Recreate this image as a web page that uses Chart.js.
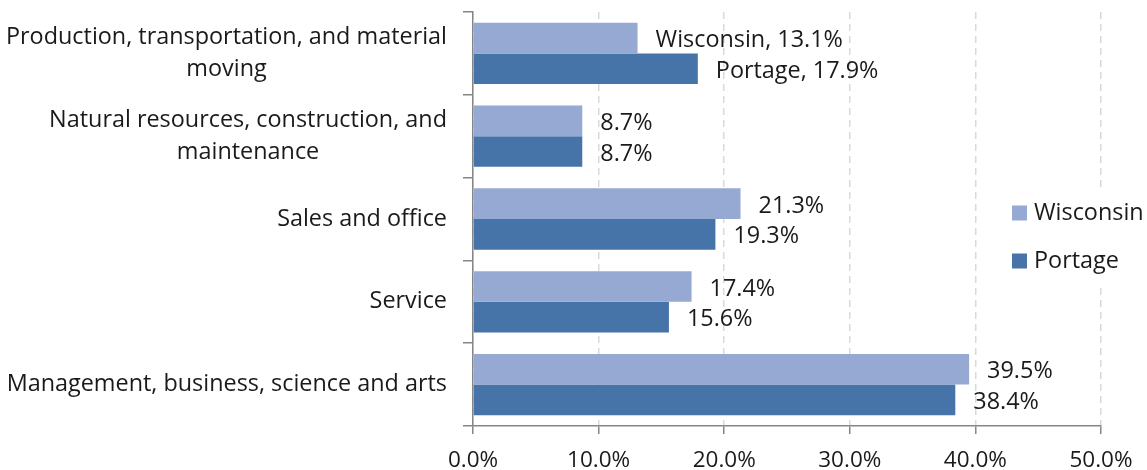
<!DOCTYPE html>
<html>
<head>
<meta charset="utf-8">
<script src="https://cdn.jsdelivr.net/npm/chart.js@4"></script>
<style>
  html, body { margin: 0; padding: 0; background: #fff; }
  canvas { display: block; }
</style>
</head>
<body>
<canvas id="chart" width="1147" height="470"></canvas>
<script>
const categories = [
    ['Production, transportation, and material', 'moving'],
    ['Natural resources, construction, and', 'maintenance'],
    ['Sales and office'],
    ['Service'],
    ['Management, business, science and arts']
]
const wisconsin = [13.1, 8.7, 21.3, 17.4, 39.5]
const portage = [17.9, 8.7, 19.3, 15.6, 38.4]
const seriesNameOnLabel = [true, false, false, false, false]
const xTicks = [0, 10, 20, 30, 40, 50]

const FONT = '"Open Sans", Lato, sans-serif'
const TEXT = '#1a1a1a'
const AXIS = '#868686'

const ctx = document.querySelector('#chart').getContext('2d')

const yLabelsPlugin = {
    id: 'yLabels',
    afterDraw(chart) {
        const c = chart.ctx
        const y = chart.scales.y
        c.save()
        c.font = `23.4px ${FONT}`
        c.fillStyle = TEXT
        c.textAlign = 'center'
        c.textBaseline = 'middle'
        categories.forEach((lines, i) => {
            const center = y.getPixelForValue(i)
            const widest = Math.max(...lines.map(l => c.measureText(l).width))
            const x = 447 - widest / 2
            const lh = 32
            lines.forEach((line, j) => {
                c.fillText(line, x, center + (j - (lines.length - 1) / 2) * lh)
            })
        })
        c.restore()
    }
}

const valueLabelsPlugin = {
    id: 'valueLabels',
    afterDatasetsDraw(chart) {
        const c = chart.ctx
        c.save()
        c.font = `23.4px ${FONT}`
        c.fillStyle = TEXT
        c.textAlign = 'left'
        c.textBaseline = 'middle'
        chart.data.datasets.forEach((ds, di) => {
            chart.getDatasetMeta(di).data.forEach((bar, i) => {
                let text = ds.data[i].toFixed(1) + '%'
                if (seriesNameOnLabel[i]) text = ds.label + ', ' + text
                c.fillText(text, bar.x + 18, bar.y + 2.5)
            })
        })
        c.restore()
    }
}

const legendPlugin = {
    id: 'sideLegend',
    afterDraw(chart) {
        const c = chart.ctx
        c.save()
        c.fillStyle = '#fff'
        c.fillRect(1005, 192, 142, 96)
        c.font = `23.4px ${FONT}`
        c.textAlign = 'left'
        c.textBaseline = 'middle'
        chart.data.datasets.forEach((ds, i) => {
            const cy = 213 + i * 48
            c.fillStyle = ds.backgroundColor
            c.fillRect(1012, cy - 7.5, 15, 15)
            c.fillStyle = TEXT
            c.fillText(ds.label, 1034, cy)
        })
        c.restore()
    }
}

new Chart(ctx, {
    type: 'bar',
    data: {
        labels: categories.map(l => l.join(' ')),
        datasets: [{
            label: 'Wisconsin',
            data: wisconsin,
            backgroundColor: '#95A9D2'
        }, {
            label: 'Portage',
            data: portage,
            backgroundColor: '#4673A8'
        }]
    },
    options: {
        indexAxis: 'y',
        responsive: false,
        animation: false,
        devicePixelRatio: 1,
        layout: { padding: { top: 12, right: 46, left: 0, bottom: 0 } },
        datasets: {
            bar: { categoryPercentage: 0.74, barPercentage: 1.0 }
        },
        plugins: {
            legend: { display: false },
            tooltip: { enabled: false }
        },
        scales: {
            x: {
                min: 0,
                max: 50,
                afterBuildTicks: s => { s.ticks = xTicks.map(v => ({ value: v })) },
                afterFit: s => { s.height = 44 },
                ticks: {
                    padding: 13,
                    color: TEXT,
                    font: { family: FONT, size: 22.5 },
                    callback: v => v.toFixed(1) + '%'
                },
                grid: {
                    color: '#D9D9D9',
                    lineWidth: 1.5,
                    tickLength: 8,
                    tickColor: AXIS,
                    tickWidth: 1.5,
                    tickBorderDash: []
                },
                border: { color: AXIS, width: 1.5, dash: [7, 5] }
            },
            y: {
                afterFit: s => { s.width = 473 },
                ticks: { display: false },
                grid: {
                    offset: true,
                    drawOnChartArea: false,
                    color: AXIS,
                    lineWidth: 1.5,
                    tickLength: 10
                },
                border: { color: AXIS, width: 1.5 }
            }
        }
    },
    plugins: [yLabelsPlugin, valueLabelsPlugin, legendPlugin]
})
</script>
</body>
</html>
